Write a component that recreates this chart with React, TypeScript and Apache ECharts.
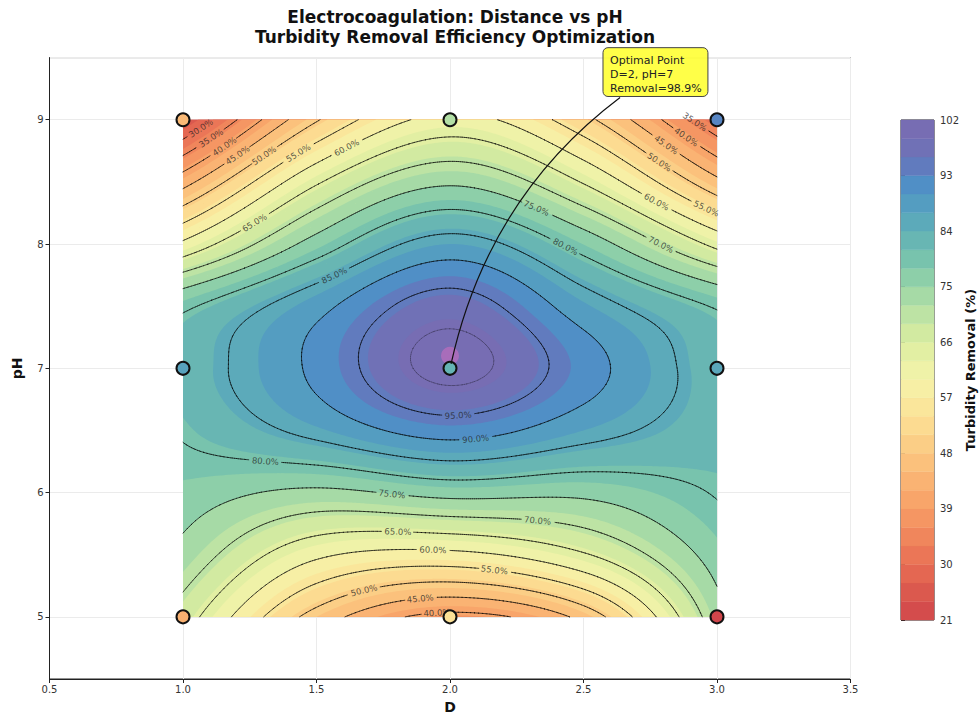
import React, { useEffect, useRef } from "react";
import * as echarts from "echarts";

// ---------------- data ----------------
const TITLE_LINES = ["Electrocoagulation: Distance vs pH", "Turbidity Removal Efficiency Optimization"];
const X_NAME = "D";
const Y_NAME = "pH";
const CBAR_NAME = "Turbidity Removal (%)";

// fitted response surface (rows = pH, columns = D)
const D_GRID = [1, 1.5, 2, 2.5, 3];
const PH_GRID = [5, 5.5, 6, 6.5, 7, 7.5, 8, 8.5, 9];
const ROW_PH_5_0 = [67.5, 48, 38.5, 46.7, 73];
const ROW_PH_5_5 = [73.5, 61, 58.7, 64.5, 77];
const ROW_PH_6_0 = [77.3, 74, 76.6, 76.1, 80.3];
const ROW_PH_6_5 = [80.5, 86.5, 92, 87, 82];
const ROW_PH_7_0 = [82, 91, 101.5, 92, 82];
const ROW_PH_7_5 = [79, 88.5, 97.5, 87.5, 79.5];
const ROW_PH_8_0 = [61, 77, 87, 77.9, 63.6];
const ROW_PH_8_5 = [43, 64.3, 74.2, 64.6, 46.3];
const ROW_PH_9_0 = [24, 49.5, 61.5, 51.5, 31];
const SURFACE_ROWS = [ROW_PH_5_0, ROW_PH_5_5, ROW_PH_6_0, ROW_PH_6_5, ROW_PH_7_0, ROW_PH_7_5, ROW_PH_8_0, ROW_PH_8_5, ROW_PH_9_0];

// experimental points
const POINT_D = [1, 2, 3, 1, 2, 3, 1, 2, 3];
const POINT_PH = [5, 5, 5, 7, 7, 7, 9, 9, 9];
const POINT_REMOVAL = [43, 54, 21, 87, 83, 86, 45, 72, 93];

// filled levels, contour line levels, colorbar ticks
const FILL_LEVELS = [21, 24, 27, 30, 33, 36, 39, 42, 45, 48, 51, 54, 57, 60, 63, 66, 69, 72, 75, 78, 81, 84, 87, 90, 93, 96, 99, 102];
const LINE_LEVELS = [30, 35, 40, 45, 50, 55, 60, 65, 70, 75, 80, 85, 90, 95, 100];
const CBAR_TICKS = [21, 30, 39, 48, 57, 66, 75, 84, 93, 102];

// contour labels: level and approximate anchor (D, pH)
const LABEL_LEVELS = [30, 35, 40, 45, 50, 55, 60, 65, 85, 35, 40, 45, 50, 60, 55, 75, 70, 80, 95, 90, 80, 75, 70, 65, 60, 55, 50, 45, 40];
const LABEL_D = [1.064, 1.109, 1.157, 1.206, 1.307, 1.427, 1.607, 1.251, 1.577, 2.91, 2.888, 2.81, 2.787, 2.787, 2.963, 2.326, 2.798, 2.423, 2.03, 2.097, 1.318, 1.782, 2.33, 1.805, 1.936, 2.168, 1.674, 1.888, 1.951];
const LABEL_PH = [8.94, 8.84, 8.78, 8.71, 8.70, 8.75, 8.80, 8.23, 7.70, 8.96, 8.87, 8.80, 8.67, 8.39, 8.30, 8.30, 8.03, 7.94, 6.65, 6.41, 6.38, 5.98, 5.85, 5.69, 5.53, 5.41, 5.25, 5.155, 5.035];

// optimum annotation
const OPT_D = 2;
const OPT_PH = 7;
const OPT_REMOVAL = 98.9;
const PEAK_MARK = [2, 7.1];
const BOX_CORNER_1 = [2.573, 9.58];
const BOX_CORNER_2 = [2.966, 9.187];
const ARROW_START = [2.637, 9.179];
const ARROW_CTRL = [2.142, 8.378];
const ARROW_END = [2.004, 7.035];

// colour map anchors (value -> rgb)
const CMAP_VALUES = [21, 24, 30, 36, 42, 48, 54, 60, 66, 72, 78, 84, 90, 92, 95, 98, 102];
const CMAP_RGB = [
  [208, 70, 75], [215, 82, 76], [232, 110, 84], [243, 142, 95], [249, 172, 110],
  [251, 200, 128], [252, 225, 150], [245, 243, 170], [220, 238, 160], [178, 223, 165],
  [128, 201, 170], [96, 176, 182], [80, 150, 197], [80, 140, 198], [100, 120, 188], [114, 111, 181], [122, 108, 178],
];

const FONT = "'DejaVu Sans', 'Noto Sans', sans-serif";

// ---------------- helpers ----------------
function rgb(c: number[]): string {
  return `rgb(${Math.round(c[0])},${Math.round(c[1])},${Math.round(c[2])})`;
}
function cmap(v: number): string {
  const n = CMAP_VALUES.length;
  if (v <= CMAP_VALUES[0]) return rgb(CMAP_RGB[0]);
  if (v >= CMAP_VALUES[n - 1]) return rgb(CMAP_RGB[n - 1]);
  let k = 0;
  while (k < n - 2 && v > CMAP_VALUES[k + 1]) k++;
  const t = (v - CMAP_VALUES[k]) / (CMAP_VALUES[k + 1] - CMAP_VALUES[k]);
  const a = CMAP_RGB[k], b = CMAP_RGB[k + 1];
  return rgb([a[0] + (b[0] - a[0]) * t, a[1] + (b[1] - a[1]) * t, a[2] + (b[2] - a[2]) * t]);
}
function bandColor(k: number): string {
  return cmap((FILL_LEVELS[k] + FILL_LEVELS[k + 1]) / 2);
}

function nodeValue(i: number, j: number): number {
  const ni = PH_GRID.length, nj = D_GRID.length;
  if (i < 0) return 2 * nodeValue(0, j) - nodeValue(1, j);
  if (i > ni - 1) return 2 * nodeValue(ni - 1, j) - nodeValue(ni - 2, j);
  if (j < 0) return 2 * nodeValue(i, 0) - nodeValue(i, 1);
  if (j > nj - 1) return 2 * nodeValue(i, nj - 1) - nodeValue(i, nj - 2);
  return SURFACE_ROWS[i][j];
}
function catmull(p0: number, p1: number, p2: number, p3: number, t: number): number {
  return 0.5 * (2 * p1 + (-p0 + p2) * t + (2 * p0 - 5 * p1 + 4 * p2 - p3) * t * t + (-p0 + 3 * p1 - 3 * p2 + p3) * t * t * t);
}
function surface(d: number, ph: number): number {
  const nj = D_GRID.length, ni = PH_GRID.length;
  const u = (d - D_GRID[0]) / (D_GRID[1] - D_GRID[0]);
  const v = (ph - PH_GRID[0]) / (PH_GRID[1] - PH_GRID[0]);
  const j = Math.max(0, Math.min(nj - 2, Math.floor(u)));
  const i = Math.max(0, Math.min(ni - 2, Math.floor(v)));
  const tu = u - j, tv = v - i;
  const r = [-1, 0, 1, 2].map((di) =>
    catmull(nodeValue(i + di, j - 1), nodeValue(i + di, j), nodeValue(i + di, j + 1), nodeValue(i + di, j + 2), tu)
  );
  return catmull(r[0], r[1], r[2], r[3], tv);
}

const fmt = (n: number) => (Math.round(n * 100) / 100).toString();

function renderField(params: any, api: any) {
  if (params.dataIndex !== 0) return null;
  const d0 = D_GRID[0], d1 = D_GRID[D_GRID.length - 1];
  const p0 = PH_GRID[0], p1 = PH_GRID[PH_GRID.length - 1];
  const NX = 130, NY = 124;
  const X: number[] = [], Y: number[] = [], Dv: number[] = [], Pv: number[] = [];
  for (let i = 0; i <= NX; i++) { Dv[i] = d0 + ((d1 - d0) * i) / NX; X[i] = api.coord([Dv[i], p0])[0]; }
  for (let j = 0; j <= NY; j++) { Pv[j] = p0 + ((p1 - p0) * j) / NY; Y[j] = api.coord([d0, Pv[j]])[1]; }
  const F: number[][] = [];
  for (let j = 0; j <= NY; j++) { F[j] = []; for (let i = 0; i <= NX; i++) F[j][i] = surface(Dv[i], Pv[j]); }

  const fPx = (x: number, y: number) => {
    const d = d0 + ((x - X[0]) / (X[NX] - X[0])) * (d1 - d0);
    const ph = p0 + ((y - Y[0]) / (Y[NY] - Y[0])) * (p1 - p0);
    return surface(d, ph);
  };

  const children: any[] = [];
  children.push({
    type: "rect",
    shape: { x: X[0], y: Y[NY], width: X[NX] - X[0], height: Y[0] - Y[NY] },
    style: { fill: bandColor(0) },
  });

  const clipTri = (tri: number[][], L: number) => {
    const out: number[][] = [];
    for (let e = 0; e < 3; e++) {
      const a = tri[e], b = tri[(e + 1) % 3];
      const ain = a[2] >= L, bin = b[2] >= L;
      if (ain) out.push(a);
      if (ain !== bin) {
        const t = (L - a[2]) / (b[2] - a[2]);
        out.push([a[0] + t * (b[0] - a[0]), a[1] + t * (b[1] - a[1])]);
      }
    }
    if (out.length < 3) return "";
    let s = "M" + fmt(out[0][0]) + " " + fmt(out[0][1]);
    for (let k = 1; k < out.length; k++) s += "L" + fmt(out[k][0]) + " " + fmt(out[k][1]);
    return s + "Z";
  };
  const rectPath = (xa: number, ya: number, xb: number, yb: number) =>
    `M${fmt(xa)} ${fmt(ya)}L${fmt(xb)} ${fmt(ya)}L${fmt(xb)} ${fmt(yb)}L${fmt(xa)} ${fmt(yb)}Z`;

  for (let k = 1; k < FILL_LEVELS.length - 1; k++) {
    const L = FILL_LEVELS[k];
    let s = "";
    for (let j = 0; j < NY; j++) {
      let run = -1;
      for (let i = 0; i < NX; i++) {
        const a = F[j][i], b = F[j][i + 1], c = F[j + 1][i + 1], d = F[j + 1][i];
        if (a >= L && b >= L && c >= L && d >= L) { if (run < 0) run = i; continue; }
        if (run >= 0) { s += rectPath(X[run], Y[j], X[i], Y[j + 1]); run = -1; }
        if (a >= L || b >= L || c >= L || d >= L) {
          const P = [X[i], Y[j], a], Q = [X[i + 1], Y[j], b], R = [X[i + 1], Y[j + 1], c], S = [X[i], Y[j + 1], d];
          s += clipTri([P, Q, R], L);
          s += clipTri([P, R, S], L);
        }
      }
      if (run >= 0) s += rectPath(X[run], Y[j], X[NX], Y[j + 1]);
    }
    if (s) children.push({ type: "path", shape: { pathData: s }, style: { fill: bandColor(k) } });
  }

  // labels (snapped to the drawn contour)
  const gaps: any[] = [];
  const labels: any[] = [];
  for (let n = 0; n < LABEL_LEVELS.length; n++) {
    const L = LABEL_LEVELS[n];
    let [x, y] = api.coord([LABEL_D[n], LABEL_PH[n]]);
    const x0 = x, y0 = y;
    let gx = 0, gy = 0;
    for (let it = 0; it < 40; it++) {
      const f = fPx(x, y);
      gx = (fPx(x + 1, y) - fPx(x - 1, y)) / 2;
      gy = (fPx(x, y + 1) - fPx(x, y - 1)) / 2;
      const g2 = gx * gx + gy * gy;
      if (g2 < 1e-9) break;
      let dx = ((L - f) / g2) * gx, dy = ((L - f) / g2) * gy;
      const m = Math.hypot(dx, dy);
      if (m > 3) { dx *= 3 / m; dy *= 3 / m; }
      x += dx; y += dy;
      if (Math.abs(L - f) < 0.005) break;
    }
    if (Math.hypot(x - x0, y - y0) > 30) { x = x0; y = y0; }
    let th = Math.atan2(-gx, gy);
    if (th > Math.PI / 2) th -= Math.PI;
    if (th < -Math.PI / 2) th += Math.PI;
    const text = L.toFixed(1) + "%";
    const hw = text.length * 2.9 + 2;
    gaps.push({ L, x, y, c: Math.cos(th), s: Math.sin(th), hw, hh: 5 });
    labels.push({
      type: "text",
      x, y, rotation: -th,
      style: { text, fontSize: 8.5, fontFamily: FONT, fill: "rgba(35,35,35,0.75)", align: "center", verticalAlign: "middle" },
    });
  }

  for (const L of LINE_LEVELS) {
    let s = "";
    const myGaps = gaps.filter((g) => g.L === L);
    for (let j = 0; j < NY; j++) {
      for (let i = 0; i < NX; i++) {
        const a = F[j][i], b = F[j][i + 1], c = F[j + 1][i + 1], d = F[j + 1][i];
        const mn = Math.min(a, b, c, d), mx = Math.max(a, b, c, d);
        if (mn >= L || mx < L) continue;
        const P = [X[i], Y[j], a], Q = [X[i + 1], Y[j], b], R = [X[i + 1], Y[j + 1], c], S = [X[i], Y[j + 1], d];
        for (const tri of [[P, Q, R], [P, R, S]]) {
          const pts: number[][] = [];
          for (let e = 0; e < 3; e++) {
            const A = tri[e], B = tri[(e + 1) % 3];
            if ((A[2] >= L) !== (B[2] >= L)) {
              const t = (L - A[2]) / (B[2] - A[2]);
              pts.push([A[0] + t * (B[0] - A[0]), A[1] + t * (B[1] - A[1])]);
            }
          }
          if (pts.length !== 2) continue;
          const mxp = (pts[0][0] + pts[1][0]) / 2, myp = (pts[0][1] + pts[1][1]) / 2;
          let hidden = false;
          for (const g of myGaps) {
            const u = (mxp - g.x) * g.c + (myp - g.y) * g.s;
            const v = -(mxp - g.x) * g.s + (myp - g.y) * g.c;
            if (Math.abs(u) < g.hw && Math.abs(v) < g.hh) { hidden = true; break; }
          }
          if (hidden) continue;
          s += `M${fmt(pts[0][0])} ${fmt(pts[0][1])}L${fmt(pts[1][0])} ${fmt(pts[1][1])}`;
        }
      }
    }
    if (s)
      children.push({
        type: "path",
        shape: { pathData: s },
        style: { fill: "none", stroke: L >= 100 ? "rgba(0,0,0,0.35)" : "rgba(0,0,0,0.7)", lineWidth: L >= 100 ? 0.7 : 0.95, lineCap: "round" },
      });
  }
  for (const l of labels) children.push(l);
  return { type: "group", children };
}

function renderAnnotation(params: any, api: any) {
  const a = api.coord(ARROW_START), c = api.coord(ARROW_CTRL), e = api.coord(ARROW_END);
  const b1 = api.coord(BOX_CORNER_1), b2 = api.coord(BOX_CORNER_2);
  const text = `Optimal Point\nD=${OPT_D}, pH=${OPT_PH}\nRemoval=${OPT_REMOVAL}%`;
  return {
    type: "group",
    children: [
      { type: "bezierCurve", shape: { x1: a[0], y1: a[1], x2: e[0], y2: e[1], cpx1: c[0], cpy1: c[1] }, style: { stroke: "#111", lineWidth: 1.2, fill: "none" } },
      { type: "rect", shape: { x: b1[0], y: b1[1], width: b2[0] - b1[0], height: b2[1] - b1[1], r: 5 }, style: { fill: "rgba(255,255,40,0.85)", stroke: "#444", lineWidth: 1 } },
      { type: "text", x: b1[0] + 7, y: b1[1] + 6, style: { text, fontSize: 11, lineHeight: 14, fontFamily: FONT, fill: "#222", align: "left", verticalAlign: "top" } },
    ],
  };
}

function renderCbar(params: any, api: any) {
  const lo = api.value(1), hi = api.value(2);
  const p = api.coord([0, lo]), q = api.coord([1, hi]);
  const col = cmap((lo + hi) / 2);
  return { type: "rect", shape: { x: p[0], y: q[1], width: q[0] - p[0], height: p[1] - q[1] }, style: { fill: col, stroke: col, lineWidth: 0.4 } };
}

export default function App() {
  const ref = useRef<HTMLDivElement>(null);
  useEffect(() => {
    document.body.style.margin = "0";
    const chart = echarts.init(ref.current!, null, { renderer: "svg" });
    const axisLabelStyle = { fontSize: 10, color: "#333", fontFamily: FONT };
    const nameStyle = { fontSize: 14, fontWeight: "bold" as const, color: "#111", fontFamily: FONT };
    const surfaceNodes: number[][] = [];
    PH_GRID.forEach((ph, i) => D_GRID.forEach((d, j) => surfaceNodes.push([d, ph, SURFACE_ROWS[i][j]])));
    const bands: number[][] = [];
    for (let k = 0; k < FILL_LEVELS.length - 1; k++) bands.push([0.5, FILL_LEVELS[k], FILL_LEVELS[k + 1]]);

    chart.setOption({
      animation: false,
      backgroundColor: "#ffffff",
      title: {
        text: TITLE_LINES.join("\n"),
        left: 450,
        top: 2,
        textAlign: "center",
        textStyle: { fontSize: 17, fontWeight: "bold", color: "#111", lineHeight: 20, fontFamily: FONT },
      },
      grid: [
        { left: 49.5, top: 57.6, width: 801, height: 623.8, show: true, borderColor: "#222", borderWidth: 1 },
        { left: 901, top: 120, width: 33, height: 500, show: true, borderColor: "#222", borderWidth: 1 },
      ],
      xAxis: [
        {
          type: "value", gridIndex: 0, min: 0.5, max: 3.5, interval: 0.5,
          name: X_NAME, nameLocation: "middle", nameGap: 21, nameTextStyle: nameStyle,
          axisLine: { show: true, lineStyle: { color: "#222" } },
          axisTick: { show: true, length: 4, lineStyle: { color: "#222" } },
          axisLabel: { ...axisLabelStyle, margin: 5, formatter: (v: number) => v.toFixed(1) },
          splitLine: { show: true, lineStyle: { color: "#ebebeb", width: 1 } },
        },
        { type: "value", gridIndex: 1, min: 0, max: 1, show: false },
      ],
      yAxis: [
        {
          type: "value", gridIndex: 0, min: 4.5, max: 9.5, splitNumber: 5,
          name: Y_NAME, nameLocation: "middle", nameGap: 26, nameTextStyle: nameStyle,
          axisLine: { show: true, lineStyle: { color: "#222" } },
          axisTick: { show: true, length: 4, lineStyle: { color: "#222" } },
          axisLabel: { ...axisLabelStyle, margin: 6, showMinLabel: false, showMaxLabel: false },
          splitLine: { show: true, lineStyle: { color: "#ebebeb", width: 1 } },
        },
        {
          type: "value", gridIndex: 1, min: CBAR_TICKS[0], max: CBAR_TICKS[CBAR_TICKS.length - 1], interval: CBAR_TICKS[1] - CBAR_TICKS[0],
          position: "right",
          name: CBAR_NAME, nameLocation: "middle", nameGap: 30, nameRotate: 90,
          nameTextStyle: { fontSize: 13, fontWeight: "bold", color: "#111", fontFamily: FONT },
          axisLine: { show: false },
          axisTick: { show: true, length: 4, lineStyle: { color: "#222" } },
          axisLabel: { ...axisLabelStyle, margin: 6 },
          splitLine: { show: false },
        },
      ],
      series: [
        {
          type: "custom", name: "surface", xAxisIndex: 0, yAxisIndex: 0, silent: true, z: 2,
          data: surfaceNodes, renderItem: renderField,
        },
        {
          type: "scatter", name: "peak", xAxisIndex: 0, yAxisIndex: 0, silent: true, z: 3,
          data: [PEAK_MARK], symbolSize: 18,
          itemStyle: { color: "rgba(255,110,200,0.45)" },
        },
        {
          type: "scatter", name: "experiments", xAxisIndex: 0, yAxisIndex: 0, silent: true, z: 4,
          data: POINT_D.map((d, i) => [d, POINT_PH[i], POINT_REMOVAL[i]]),
          symbolSize: 13,
          itemStyle: { color: (p: any) => cmap(p.value[2]), borderColor: "#111", borderWidth: 2, opacity: 1 },
        },
        {
          type: "custom", name: "annotation", xAxisIndex: 0, yAxisIndex: 0, silent: true, z: 6, clip: false,
          data: [[OPT_D, OPT_PH]], renderItem: renderAnnotation,
        },
        {
          type: "custom", name: "colorbar", xAxisIndex: 1, yAxisIndex: 1, silent: true, z: 2,
          encode: { x: 0, y: [1, 2] },
          data: bands, renderItem: renderCbar,
        },
      ],
    });
    return () => chart.dispose();
  }, []);
  return <div ref={ref} style={{ width: 979, height: 719 }} />;
}
